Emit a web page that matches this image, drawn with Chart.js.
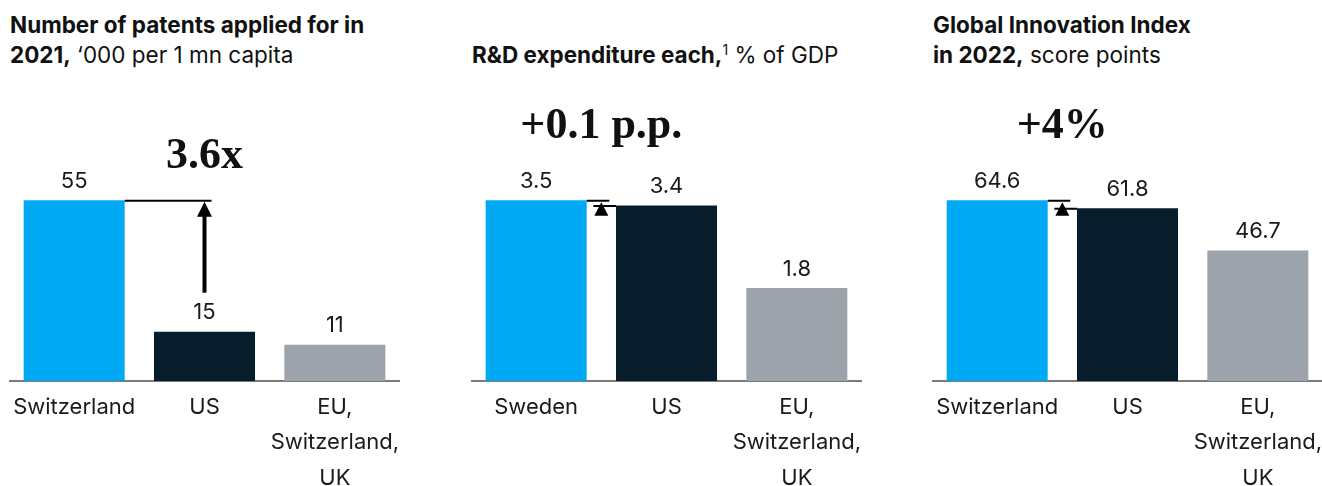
<!DOCTYPE html>
<html>
<head>
<meta charset="utf-8">
<script src="https://cdn.jsdelivr.net/npm/chart.js@4"></script>
<style>
  html, body { margin: 0; padding: 0; background: #fff; overflow: hidden; }
  body { width: 1322px; height: 486px; position: relative; font-family: Inter, "Liberation Sans", sans-serif; color: #1a1a1a; }
  .panel { position: absolute; top: 0; width: 391px; height: 486px; }
  .title { position: absolute; top: 10px; font-size: 22.5px; line-height: 30px; white-space: nowrap; color: #111; }
  .title b { font-weight: 700; }
  .title sup { font-size: 14px; line-height: 0; vertical-align: 8px; }
</style>
</head>
<body>
<div class="title" style="left:10px">
  <b>Number of patents applied for in</b><br><b>2021,</b> ‘000 per 1 mn capita
</div>
<div class="title" style="left:472px">
  <br><b>R&amp;D expenditure each,</b><sup>1</sup> % of GDP
</div>
<div class="title" style="left:933px">
  <b>Global Innovation Index</b><br><b>in 2022,</b> score points
</div>

<div class="panel" style="left:9px"><canvas id="patents"></canvas></div>
<div class="panel" style="left:471px"><canvas id="rnd"></canvas></div>
<div class="panel" style="left:932px"><canvas id="gii"></canvas></div>

<script>
// Categories per panel
const patentCountries = ['Switzerland', 'US', ['EU,', 'Switzerland,', 'UK']];
const rndCountries = ['Sweden', 'US', ['EU,', 'Switzerland,', 'UK']];
const giiCountries = ['Switzerland', 'US', ['EU,', 'Switzerland,', 'UK']];

// Values per panel
const patentsPerMillion = [55, 15, 11];
const rndShareOfGdp = [3.5, 3.4, 1.8];
const giiScore = [64.6, 61.8, 46.7];

// Headline comparison between the first two bars
const patentsGap = '3.6x';
const rndGap = '+0.1 p.p.';
const giiGap = '+4%';

const barColors = ['#00a9f4', '#071d2c', '#9ca3aa'];
const sansFont = 'Inter, "Liberation Sans", sans-serif';
const serifFont = '"Liberation Serif", "DejaVu Serif", serif';

// Value labels, bracket/arrow between the first two bars and the headline text
const overlayPlugin = {
  id: 'overlay',
  afterDatasetsDraw(chart, args, opts) {
    const ctx = chart.ctx;
    const bars = chart.getDatasetMeta(0).data;
    const values = chart.data.datasets[0].data;
    ctx.save();

    // value labels
    ctx.fillStyle = '#1a1a1a';
    ctx.font = '22px ' + sansFont;
    ctx.textAlign = 'center';
    ctx.textBaseline = 'middle';
    bars.forEach((bar, i) => {
      ctx.fillText(String(values[i]), bar.x, bar.y - 19);
    });

    const b0 = bars[0], b1 = bars[1];
    const r0 = b0.x + b0.width / 2;
    const l1 = b1.x - b1.width / 2;
    ctx.strokeStyle = '#000';
    ctx.fillStyle = '#000';
    ctx.lineWidth = 2;

    let cx, textY;
    if (opts.mode === 'arrow') {
      cx = b1.x;
      const yTop = b0.y + 0.5;
      ctx.beginPath();
      ctx.moveTo(r0, yTop);
      ctx.lineTo(cx + 7, yTop);
      ctx.stroke();
      // arrow head
      ctx.beginPath();
      ctx.moveTo(cx, yTop + 1);
      ctx.lineTo(cx - 7.5, yTop + 16);
      ctx.lineTo(cx + 7.5, yTop + 16);
      ctx.closePath();
      ctx.fill();
      // shaft
      ctx.fillRect(cx - 2, yTop + 15, 4, (b1.y - 39) - (yTop + 15));
      textY = yTop - 33;
    } else {
      cx = (r0 + l1) / 2;
      const y0 = b0.y + 0.5;
      const y1 = b1.y + 0.5;
      ctx.beginPath();
      ctx.moveTo(r0, y0);
      ctx.lineTo(cx + 8, y0);
      ctx.moveTo(cx - 8, y1);
      ctx.lineTo(l1, y1);
      ctx.stroke();
      ctx.beginPath();
      ctx.moveTo(cx, y0 + 1.5);
      ctx.lineTo(cx - 7, y0 + 15);
      ctx.lineTo(cx + 7, y0 + 15);
      ctx.closePath();
      ctx.fill();
      textY = y0 - 63;
    }

    ctx.fillStyle = '#111';
    ctx.font = 'bold 44px ' + serifFont;
    ctx.textAlign = 'center';
    ctx.textBaseline = 'alphabetic';
    ctx.fillText(opts.text, cx, textY);
    ctx.restore();
  }
};

function makeChart(id, labels, values, text, mode) {
  return new Chart(document.getElementById(id), {
    type: 'bar',
    data: {
      labels: labels,
      datasets: [{
        data: values,
        backgroundColor: barColors,
        borderWidth: 0,
        categoryPercentage: 0.775,
        barPercentage: 1
      }]
    },
    options: {
      responsive: true,
      maintainAspectRatio: false,
      animation: false,
      events: [],
      layout: { padding: { top: 110, left: 0, right: 0, bottom: 0 } },
      plugins: {
        legend: { display: false },
        tooltip: { enabled: false },
        overlay: { text: text, mode: mode }
      },
      scales: {
        x: {
          grid: { display: false, drawTicks: false },
          border: { display: true, color: '#7a7a7a', width: 2 },
          ticks: {
            color: '#1a1a1a',
            font: { family: sansFont, size: 22, lineHeight: 1.6 },
            padding: 9,
            maxRotation: 0,
            autoSkip: false
          },
          afterFit(scale) {
            // keep the plot area spanning the full panel width
            scale.height = 105;
            scale.paddingLeft = 0;
            scale.paddingRight = 0;
          }
        },
        y: {
          display: false,
          min: 0,
          max: values[0] * 1.5
        }
      }
    },
    plugins: [overlayPlugin]
  });
}

makeChart('patents', patentCountries, patentsPerMillion, patentsGap, 'arrow');
makeChart('rnd', rndCountries, rndShareOfGdp, rndGap, 'gap');
makeChart('gii', giiCountries, giiScore, giiGap, 'gap');
</script>
</body>
</html>
